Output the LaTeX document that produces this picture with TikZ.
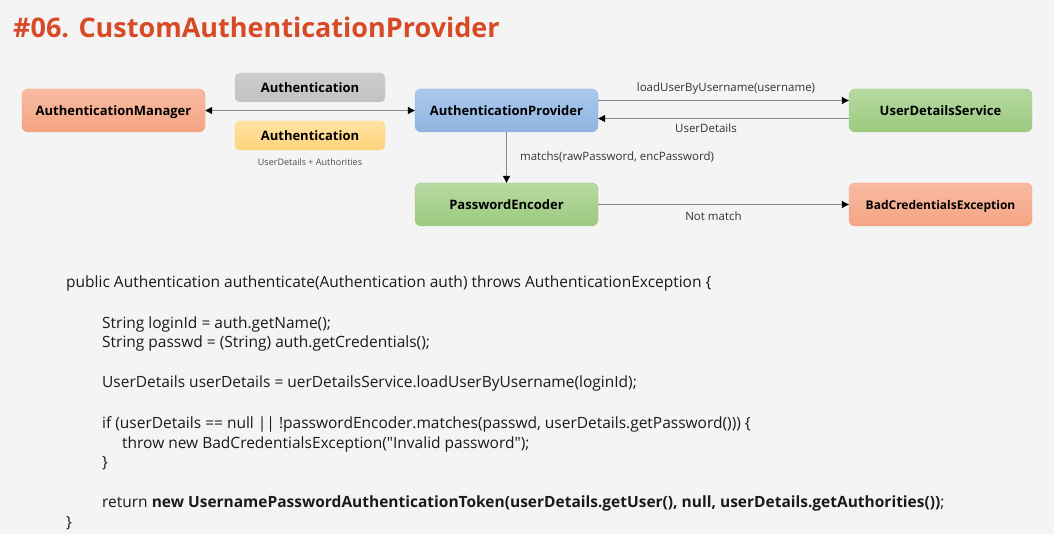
\documentclass[tikz,border=0pt]{standalone}
\usepackage{fontspec}
\setmainfont{Open Sans}[Ligatures=TeXOff]
\usetikzlibrary{arrows.meta}
\definecolor{bg}{HTML}{F4F4F4}
\definecolor{titlec}{HTML}{D84A27}
\definecolor{salT}{HTML}{F8BBA3}\definecolor{salB}{HTML}{F4A482}\definecolor{salD}{HTML}{F1A486}
\definecolor{bluT}{HTML}{ABCAEC}\definecolor{bluB}{HTML}{8FB4E1}\definecolor{bluD}{HTML}{93B8E3}
\definecolor{grnT}{HTML}{B6D9A2}\definecolor{grnB}{HTML}{9CCA7F}\definecolor{grnD}{HTML}{A0CC86}
\definecolor{gryT}{HTML}{CDCDCD}\definecolor{gryB}{HTML}{C2C2C2}\definecolor{gryD}{HTML}{C6C6C6}
\definecolor{yelT}{HTML}{FFE2A3}\definecolor{yelB}{HTML}{FFD47A}\definecolor{yelD}{HTML}{FAD488}
\definecolor{linec}{HTML}{8A8A8A}
\definecolor{lblc}{HTML}{333333}
\definecolor{codec}{HTML}{1A1A1A}
\begin{document}
\begin{tikzpicture}[x=1pt,y=-1pt,
  box/.style={rounded corners=6pt, minimum width=183pt, minimum height=43pt, inner sep=0pt,
    text height=10.5pt, text depth=0pt,
    font=\fontsize{13}{15}\selectfont\bfseries, text=black},
  salbox/.style={box, top color=salT, bottom color=salB, draw=salD},
  blubox/.style={box, top color=bluT, bottom color=bluB, draw=bluD},
  grnbox/.style={box, top color=grnT, bottom color=grnB, draw=grnD},
  tagbox/.style={rounded corners=5pt, minimum width=150pt, minimum height=29pt, inner sep=0pt,
    text height=10.5pt, text depth=0pt,
    font=\fontsize{13}{15}\selectfont\bfseries, text=black},
  conn/.style={draw=linec, line width=1.1pt, -{Triangle[black,length=7pt,width=7pt]}},
  lbl/.style={font=\fontsize{11.5}{13}\selectfont, text=lblc, inner sep=0pt},
  code/.style={font=\fontsize{15.5}{18}\selectfont, text=codec, inner sep=0pt, anchor=base west}
]
\fill[bg] (0,0) rectangle (1054,534);
\useasboundingbox (0,0) rectangle (1054,534);

\node[anchor=base west, inner sep=0pt, text=titlec, font=\fontsize{27}{31}\selectfont\bfseries] (title) at (13,38) {\#06. CustomAuthenticationProvider};

\node[salbox] (am) at (113.5,110.5) {AuthenticationManager};
\node[tagbox, top color=gryT, bottom color=gryB, draw=gryD] (a1) at (310,87.5) {Authentication};
\node[tagbox, top color=yelT, bottom color=yelB, draw=yelD] (a2) at (310,135.5) {Authentication};
\node[lbl, font=\fontsize{9}{11}\selectfont, text=black!70] (ua) at (310,162) {UserDetails + Authorities};
\node[blubox] (ap) at (506.5,110.5) {AuthenticationProvider};
\node[grnbox] (uds) at (940.5,110.5) {UserDetailsService};
\node[grnbox] (pe) at (506.5,204.5) {PasswordEncoder};
\node[salbox, font=\fontsize{12}{14}\selectfont\bfseries] (bce) at (940.5,204.5) {BadCredentialsException};

\draw[conn, {Triangle[black,length=7pt,width=7pt]}-{Triangle[black,length=7pt,width=7pt]}] (am.east) -- (ap.west);
\draw[conn] ([yshift=10pt]ap.east) -- node[lbl, above=6pt, pos=0.51] {loadUserByUsername(username)} ([yshift=10pt]uds.west);
\draw[conn] ([yshift=-8pt]uds.west) -- node[lbl, below=5pt, pos=0.57] {UserDetails} ([yshift=-8pt]ap.east);
\draw[conn] (ap.south) -- node[lbl, right=13pt] {matchs(rawPassword, encPassword)} (pe.north);
\draw[conn] (pe.east) -- node[lbl, below=7pt, pos=0.46] {Not match} (bce.west);

\node[code] (c1) at (66,288) {public Authentication authenticate(Authentication auth) throws AuthenticationException \{};
\node[code] (c2) at (102,328) {String loginId = auth.getName();};
\node[code] (c3) at (102,348) {String passwd = (String) auth.getCredentials();};
\node[code] (c4) at (102,387) {UserDetails userDetails = uerDetailsService.loadUserByUsername(loginId);};
\node[code] (c5) at (102,428) {if (userDetails == null || !passwordEncoder.matches(passwd, userDetails.getPassword())) \{};
\node[code] (c6) at (122,448) {throw new BadCredentialsException("Invalid password");};
\node[code] (c7) at (102,467) {\}};
\node[code] (c8) at (102,507) {return \textbf{new UsernamePasswordAuthenticationToken(userDetails.getUser(), null, userDetails.getAuthorities())};};
\node[code] (c9) at (66,527) {\}};
\end{tikzpicture}
\end{document}
